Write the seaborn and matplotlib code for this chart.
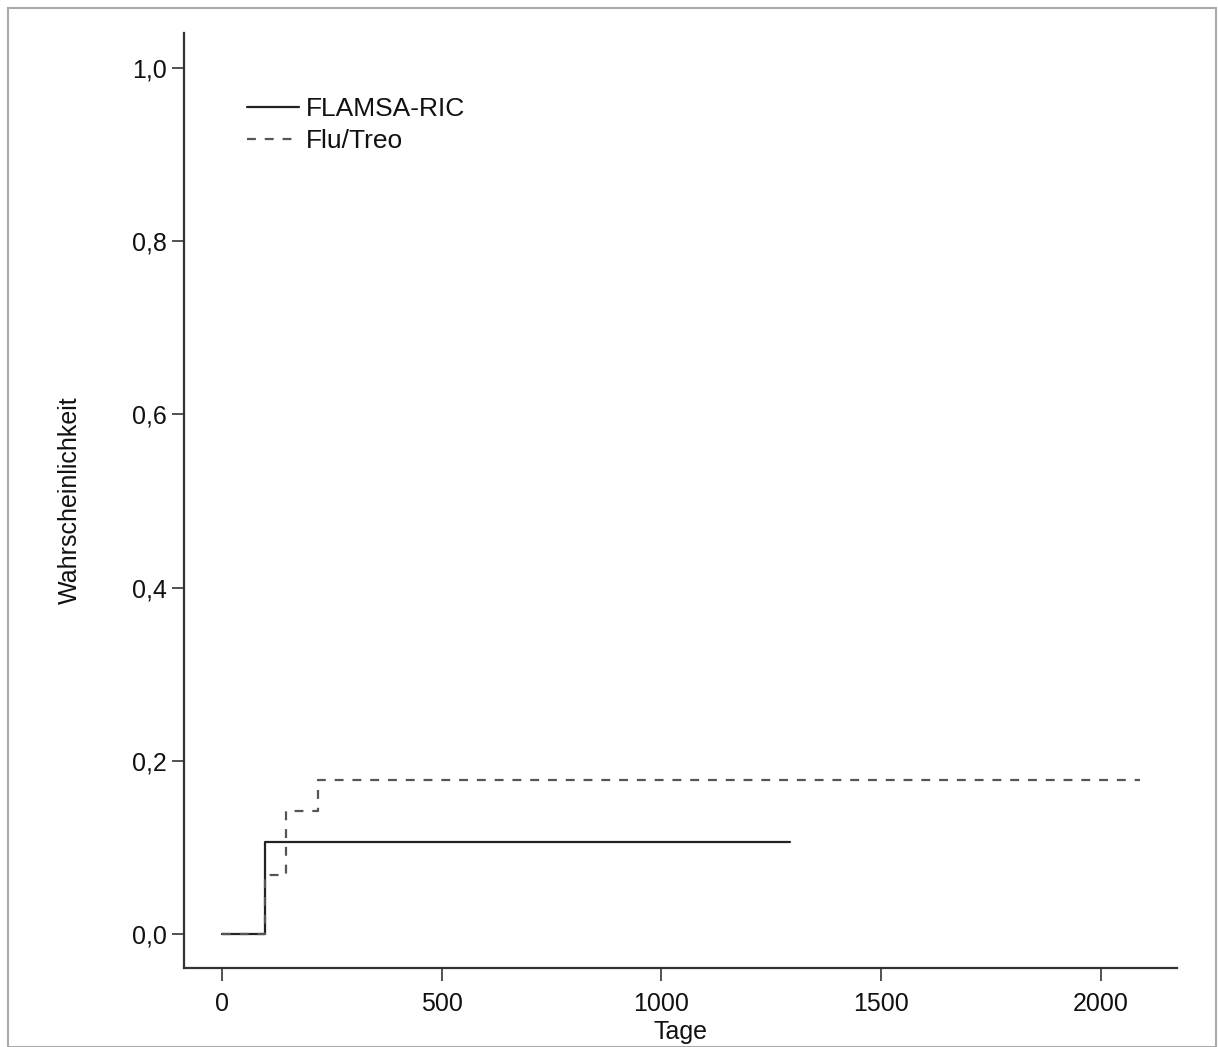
import matplotlib
matplotlib.use("Agg")
import matplotlib.pyplot as plt
import matplotlib.ticker as mticker
from matplotlib.patches import Rectangle
import seaborn as sns
import pandas as pd

# step curves (days, cumulative probability)
flamsa_tage = [0, 98, 1293]
flamsa_p = [0.0, 0.106, 0.106]
flu_tage = [0, 98, 146, 218, 2089]
flu_p = [0.0, 0.068, 0.142, 0.178, 0.178]

x_ticks = [0, 500, 1000, 1500, 2000]
y_ticks = [0.0, 0.2, 0.4, 0.6, 0.8, 1.0]

df_flamsa = pd.DataFrame({"Tage": flamsa_tage, "p": flamsa_p})
df_flu = pd.DataFrame({"Tage": flu_tage, "p": flu_p})

sns.set_style("ticks")
plt.rcParams['font.family'] = ['Liberation Sans', 'DejaVu Sans']

fig = plt.figure(figsize=(12.18, 10.47), dpi=100)
ax = fig.add_axes([0.151, 0.0755, 0.8153, 0.893])

sns.lineplot(data=df_flamsa, x="Tage", y="p", ax=ax, drawstyle="steps-post",
             color="#222222", linewidth=1.6, label="FLAMSA-RIC")
sns.lineplot(data=df_flu, x="Tage", y="p", ax=ax, drawstyle="steps-post",
             color="#555555", linewidth=1.6, dashes=(4, 4), label="Flu/Treo")

ax.set_xlim(-86, 2173)
ax.set_ylim(-0.039, 1.040)
ax.set_xticks(x_ticks)
ax.set_yticks(y_ticks)
ax.yaxis.set_major_formatter(mticker.FuncFormatter(lambda v, p: f"{v:.1f}".replace(".", ",")))
ax.tick_params(axis='both', labelsize=18, length=9, width=1.2, color="#333333",
               labelcolor="#111111")
ax.tick_params(axis='x', pad=8)
ax.set_xlabel("Tage", fontsize=18, labelpad=3, color="#111111")
ax.set_ylabel("Wahrscheinlichkeit", fontsize=18, labelpad=36, color="#111111")

for s in ["top", "right"]:
    ax.spines[s].set_visible(False)
for s in ["left", "bottom"]:
    ax.spines[s].set_linewidth(1.6)
    ax.spines[s].set_color("#333333")

leg = ax.legend(loc="upper left", bbox_to_anchor=(0.040, 0.957), frameon=False,
                fontsize=19, handlelength=1.95, handletextpad=0.27, labelspacing=0.3)
for t in leg.get_texts():
    t.set_color("#111111")

fig.patches.append(Rectangle((0.0066, 0.0), 0.9918, 0.9924, transform=fig.transFigure,
                             fill=False, edgecolor="#aaaaaa", linewidth=1.5))

fig.savefig("out.png", dpi=100)
